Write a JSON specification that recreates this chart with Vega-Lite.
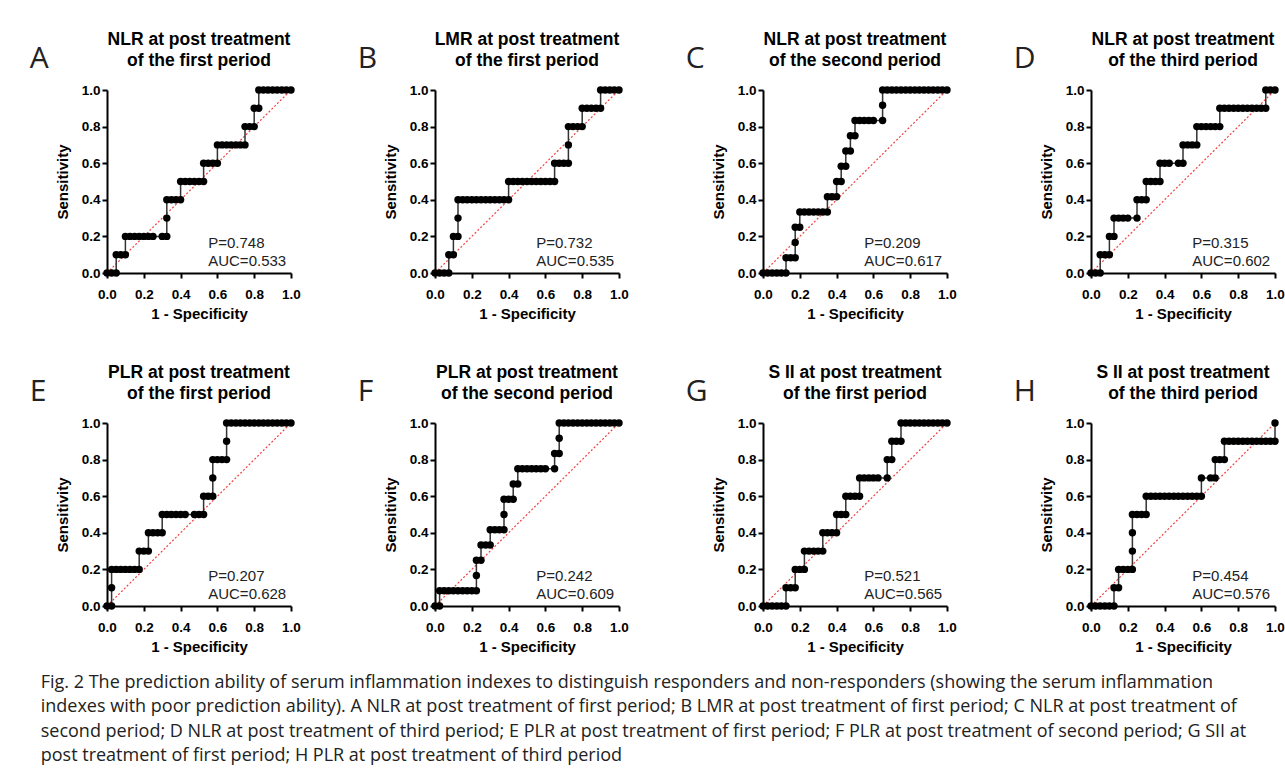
{
"$schema":"https://vega.github.io/schema/vega-lite/v6.json",
"background":"white",
"padding":{"left":29,"top":31,"right":5,"bottom":5},
"datasets":{
"stats":[
{"p":"A","L":"A","P":"P=0.748","AUC":"AUC=0.533"},
{"p":"B","L":"B","P":"P=0.732","AUC":"AUC=0.535"},
{"p":"C","L":"C","P":"P=0.209","AUC":"AUC=0.617"},
{"p":"D","L":"D","P":"P=0.315","AUC":"AUC=0.602"},
{"p":"E","L":"E","P":"P=0.207","AUC":"AUC=0.628"},
{"p":"F","L":"F","P":"P=0.242","AUC":"AUC=0.609"},
{"p":"G","L":"G","P":"P=0.521","AUC":"AUC=0.565"},
{"p":"H","L":"H","P":"P=0.454","AUC":"AUC=0.576"}
],
"curves":[
{"p":"A","x":0,"y":0},{"p":"A","x":0.025,"y":0},{"p":"A","x":0.05,"y":0},
{"p":"A","x":0.05,"y":0.1},{"p":"A","x":0.075,"y":0.1},{"p":"A","x":0.1,"y":0.1},
{"p":"A","x":0.1,"y":0.2},{"p":"A","x":0.125,"y":0.2},{"p":"A","x":0.15,"y":0.2},{"p":"A","x":0.175,"y":0.2},{"p":"A","x":0.2,"y":0.2},{"p":"A","x":0.225,"y":0.2},{"p":"A","x":0.25,"y":0.2},{"p":"A","x":0.3,"y":0.2},{"p":"A","x":0.325,"y":0.2},
{"p":"A","x":0.325,"y":0.3},
{"p":"A","x":0.325,"y":0.4},{"p":"A","x":0.35,"y":0.4},{"p":"A","x":0.375,"y":0.4},{"p":"A","x":0.4,"y":0.4},
{"p":"A","x":0.4,"y":0.5},{"p":"A","x":0.425,"y":0.5},{"p":"A","x":0.45,"y":0.5},{"p":"A","x":0.475,"y":0.5},{"p":"A","x":0.5,"y":0.5},{"p":"A","x":0.525,"y":0.5},
{"p":"A","x":0.525,"y":0.6},{"p":"A","x":0.55,"y":0.6},{"p":"A","x":0.575,"y":0.6},{"p":"A","x":0.6,"y":0.6},
{"p":"A","x":0.6,"y":0.7},{"p":"A","x":0.625,"y":0.7},{"p":"A","x":0.65,"y":0.7},{"p":"A","x":0.675,"y":0.7},{"p":"A","x":0.7,"y":0.7},{"p":"A","x":0.725,"y":0.7},{"p":"A","x":0.75,"y":0.7},
{"p":"A","x":0.75,"y":0.8},{"p":"A","x":0.775,"y":0.8},{"p":"A","x":0.8,"y":0.8},
{"p":"A","x":0.8,"y":0.9},{"p":"A","x":0.825,"y":0.9},
{"p":"A","x":0.825,"y":1},{"p":"A","x":0.85,"y":1},{"p":"A","x":0.875,"y":1},{"p":"A","x":0.9,"y":1},{"p":"A","x":0.925,"y":1},{"p":"A","x":0.95,"y":1},{"p":"A","x":0.975,"y":1},{"p":"A","x":1,"y":1},

{"p":"B","x":0,"y":0},{"p":"B","x":0.025,"y":0},{"p":"B","x":0.05,"y":0},{"p":"B","x":0.075,"y":0},
{"p":"B","x":0.075,"y":0.1},{"p":"B","x":0.1,"y":0.1},
{"p":"B","x":0.1,"y":0.2},{"p":"B","x":0.125,"y":0.2},
{"p":"B","x":0.125,"y":0.3},
{"p":"B","x":0.125,"y":0.4},{"p":"B","x":0.15,"y":0.4},{"p":"B","x":0.175,"y":0.4},{"p":"B","x":0.2,"y":0.4},{"p":"B","x":0.225,"y":0.4},{"p":"B","x":0.25,"y":0.4},{"p":"B","x":0.275,"y":0.4},{"p":"B","x":0.3,"y":0.4},{"p":"B","x":0.325,"y":0.4},{"p":"B","x":0.35,"y":0.4},{"p":"B","x":0.375,"y":0.4},{"p":"B","x":0.4,"y":0.4},
{"p":"B","x":0.4,"y":0.5},{"p":"B","x":0.425,"y":0.5},{"p":"B","x":0.45,"y":0.5},{"p":"B","x":0.475,"y":0.5},{"p":"B","x":0.5,"y":0.5},{"p":"B","x":0.525,"y":0.5},{"p":"B","x":0.55,"y":0.5},{"p":"B","x":0.575,"y":0.5},{"p":"B","x":0.6,"y":0.5},{"p":"B","x":0.625,"y":0.5},{"p":"B","x":0.65,"y":0.5},
{"p":"B","x":0.65,"y":0.6},{"p":"B","x":0.675,"y":0.6},{"p":"B","x":0.7,"y":0.6},{"p":"B","x":0.725,"y":0.6},
{"p":"B","x":0.725,"y":0.7},
{"p":"B","x":0.725,"y":0.8},{"p":"B","x":0.75,"y":0.8},{"p":"B","x":0.775,"y":0.8},{"p":"B","x":0.8,"y":0.8},
{"p":"B","x":0.8,"y":0.9},{"p":"B","x":0.825,"y":0.9},{"p":"B","x":0.85,"y":0.9},{"p":"B","x":0.875,"y":0.9},{"p":"B","x":0.9,"y":0.9},
{"p":"B","x":0.9,"y":1},{"p":"B","x":0.925,"y":1},{"p":"B","x":0.95,"y":1},{"p":"B","x":0.975,"y":1},{"p":"B","x":1,"y":1},

{"p":"C","x":0,"y":0},{"p":"C","x":0.025,"y":0},{"p":"C","x":0.05,"y":0},{"p":"C","x":0.075,"y":0},{"p":"C","x":0.1,"y":0},{"p":"C","x":0.125,"y":0},
{"p":"C","x":0.125,"y":0.0833},{"p":"C","x":0.15,"y":0.0833},{"p":"C","x":0.175,"y":0.0833},
{"p":"C","x":0.175,"y":0.1667},
{"p":"C","x":0.175,"y":0.25},{"p":"C","x":0.2,"y":0.25},
{"p":"C","x":0.2,"y":0.3333},{"p":"C","x":0.225,"y":0.3333},{"p":"C","x":0.25,"y":0.3333},{"p":"C","x":0.275,"y":0.3333},{"p":"C","x":0.3,"y":0.3333},{"p":"C","x":0.325,"y":0.3333},{"p":"C","x":0.35,"y":0.3333},
{"p":"C","x":0.35,"y":0.4167},{"p":"C","x":0.375,"y":0.4167},{"p":"C","x":0.4,"y":0.4167},
{"p":"C","x":0.4,"y":0.5},{"p":"C","x":0.425,"y":0.5},
{"p":"C","x":0.425,"y":0.5833},{"p":"C","x":0.45,"y":0.5833},
{"p":"C","x":0.45,"y":0.6667},{"p":"C","x":0.475,"y":0.6667},
{"p":"C","x":0.475,"y":0.75},{"p":"C","x":0.5,"y":0.75},
{"p":"C","x":0.5,"y":0.8333},{"p":"C","x":0.525,"y":0.8333},{"p":"C","x":0.55,"y":0.8333},{"p":"C","x":0.575,"y":0.8333},{"p":"C","x":0.6,"y":0.8333},{"p":"C","x":0.65,"y":0.8333},
{"p":"C","x":0.65,"y":0.9167},
{"p":"C","x":0.65,"y":1},{"p":"C","x":0.675,"y":1},{"p":"C","x":0.7,"y":1},{"p":"C","x":0.725,"y":1},{"p":"C","x":0.75,"y":1},{"p":"C","x":0.775,"y":1},{"p":"C","x":0.8,"y":1},{"p":"C","x":0.825,"y":1},{"p":"C","x":0.85,"y":1},{"p":"C","x":0.875,"y":1},{"p":"C","x":0.9,"y":1},{"p":"C","x":0.925,"y":1},{"p":"C","x":0.95,"y":1},{"p":"C","x":0.975,"y":1},{"p":"C","x":1,"y":1},

{"p":"D","x":0,"y":0},{"p":"D","x":0.025,"y":0},{"p":"D","x":0.05,"y":0},
{"p":"D","x":0.05,"y":0.1},{"p":"D","x":0.075,"y":0.1},{"p":"D","x":0.1,"y":0.1},
{"p":"D","x":0.1,"y":0.2},{"p":"D","x":0.125,"y":0.2},
{"p":"D","x":0.125,"y":0.3},{"p":"D","x":0.15,"y":0.3},{"p":"D","x":0.175,"y":0.3},{"p":"D","x":0.2,"y":0.3},{"p":"D","x":0.25,"y":0.3},
{"p":"D","x":0.25,"y":0.4},{"p":"D","x":0.275,"y":0.4},{"p":"D","x":0.3,"y":0.4},
{"p":"D","x":0.3,"y":0.5},{"p":"D","x":0.325,"y":0.5},{"p":"D","x":0.35,"y":0.5},{"p":"D","x":0.375,"y":0.5},
{"p":"D","x":0.375,"y":0.6},{"p":"D","x":0.4,"y":0.6},{"p":"D","x":0.425,"y":0.6},{"p":"D","x":0.475,"y":0.6},{"p":"D","x":0.5,"y":0.6},
{"p":"D","x":0.5,"y":0.7},{"p":"D","x":0.525,"y":0.7},{"p":"D","x":0.55,"y":0.7},{"p":"D","x":0.575,"y":0.7},
{"p":"D","x":0.575,"y":0.8},{"p":"D","x":0.6,"y":0.8},{"p":"D","x":0.625,"y":0.8},{"p":"D","x":0.65,"y":0.8},{"p":"D","x":0.675,"y":0.8},{"p":"D","x":0.7,"y":0.8},
{"p":"D","x":0.7,"y":0.9},{"p":"D","x":0.725,"y":0.9},{"p":"D","x":0.75,"y":0.9},{"p":"D","x":0.775,"y":0.9},{"p":"D","x":0.8,"y":0.9},{"p":"D","x":0.825,"y":0.9},{"p":"D","x":0.85,"y":0.9},{"p":"D","x":0.875,"y":0.9},{"p":"D","x":0.9,"y":0.9},{"p":"D","x":0.925,"y":0.9},{"p":"D","x":0.95,"y":0.9},
{"p":"D","x":0.95,"y":1},{"p":"D","x":0.975,"y":1},{"p":"D","x":1,"y":1},

{"p":"E","x":0,"y":0},{"p":"E","x":0.025,"y":0},
{"p":"E","x":0.025,"y":0.1},
{"p":"E","x":0.025,"y":0.2},{"p":"E","x":0.05,"y":0.2},{"p":"E","x":0.075,"y":0.2},{"p":"E","x":0.1,"y":0.2},{"p":"E","x":0.125,"y":0.2},{"p":"E","x":0.15,"y":0.2},{"p":"E","x":0.175,"y":0.2},
{"p":"E","x":0.175,"y":0.3},{"p":"E","x":0.2,"y":0.3},{"p":"E","x":0.225,"y":0.3},
{"p":"E","x":0.225,"y":0.4},{"p":"E","x":0.25,"y":0.4},{"p":"E","x":0.275,"y":0.4},{"p":"E","x":0.3,"y":0.4},
{"p":"E","x":0.3,"y":0.5},{"p":"E","x":0.325,"y":0.5},{"p":"E","x":0.35,"y":0.5},{"p":"E","x":0.375,"y":0.5},{"p":"E","x":0.4,"y":0.5},{"p":"E","x":0.425,"y":0.5},{"p":"E","x":0.475,"y":0.5},{"p":"E","x":0.5,"y":0.5},{"p":"E","x":0.525,"y":0.5},
{"p":"E","x":0.525,"y":0.6},{"p":"E","x":0.55,"y":0.6},{"p":"E","x":0.575,"y":0.6},
{"p":"E","x":0.575,"y":0.7},
{"p":"E","x":0.575,"y":0.8},{"p":"E","x":0.6,"y":0.8},{"p":"E","x":0.625,"y":0.8},{"p":"E","x":0.65,"y":0.8},
{"p":"E","x":0.65,"y":0.9},
{"p":"E","x":0.65,"y":1},{"p":"E","x":0.675,"y":1},{"p":"E","x":0.7,"y":1},{"p":"E","x":0.725,"y":1},{"p":"E","x":0.75,"y":1},{"p":"E","x":0.775,"y":1},{"p":"E","x":0.8,"y":1},{"p":"E","x":0.825,"y":1},{"p":"E","x":0.85,"y":1},{"p":"E","x":0.875,"y":1},{"p":"E","x":0.9,"y":1},{"p":"E","x":0.925,"y":1},{"p":"E","x":0.95,"y":1},{"p":"E","x":0.975,"y":1},{"p":"E","x":1,"y":1},

{"p":"F","x":0,"y":0},{"p":"F","x":0.025,"y":0},
{"p":"F","x":0.025,"y":0.0833},{"p":"F","x":0.05,"y":0.0833},{"p":"F","x":0.075,"y":0.0833},{"p":"F","x":0.1,"y":0.0833},{"p":"F","x":0.125,"y":0.0833},{"p":"F","x":0.15,"y":0.0833},{"p":"F","x":0.175,"y":0.0833},{"p":"F","x":0.2,"y":0.0833},{"p":"F","x":0.225,"y":0.0833},
{"p":"F","x":0.225,"y":0.1667},
{"p":"F","x":0.225,"y":0.25},{"p":"F","x":0.25,"y":0.25},
{"p":"F","x":0.25,"y":0.3333},{"p":"F","x":0.275,"y":0.3333},{"p":"F","x":0.3,"y":0.3333},
{"p":"F","x":0.3,"y":0.4167},{"p":"F","x":0.325,"y":0.4167},{"p":"F","x":0.35,"y":0.4167},{"p":"F","x":0.375,"y":0.4167},
{"p":"F","x":0.375,"y":0.5},
{"p":"F","x":0.375,"y":0.5833},{"p":"F","x":0.4,"y":0.5833},{"p":"F","x":0.425,"y":0.5833},
{"p":"F","x":0.425,"y":0.6667},{"p":"F","x":0.45,"y":0.6667},
{"p":"F","x":0.45,"y":0.75},{"p":"F","x":0.475,"y":0.75},{"p":"F","x":0.5,"y":0.75},{"p":"F","x":0.525,"y":0.75},{"p":"F","x":0.55,"y":0.75},{"p":"F","x":0.575,"y":0.75},{"p":"F","x":0.6,"y":0.75},{"p":"F","x":0.65,"y":0.75},
{"p":"F","x":0.65,"y":0.8333},{"p":"F","x":0.675,"y":0.8333},
{"p":"F","x":0.675,"y":0.9167},
{"p":"F","x":0.675,"y":1},{"p":"F","x":0.7,"y":1},{"p":"F","x":0.725,"y":1},{"p":"F","x":0.75,"y":1},{"p":"F","x":0.775,"y":1},{"p":"F","x":0.8,"y":1},{"p":"F","x":0.825,"y":1},{"p":"F","x":0.85,"y":1},{"p":"F","x":0.875,"y":1},{"p":"F","x":0.9,"y":1},{"p":"F","x":0.925,"y":1},{"p":"F","x":0.95,"y":1},{"p":"F","x":0.975,"y":1},{"p":"F","x":1,"y":1},

{"p":"G","x":0,"y":0},{"p":"G","x":0.025,"y":0},{"p":"G","x":0.05,"y":0},{"p":"G","x":0.075,"y":0},{"p":"G","x":0.1,"y":0},{"p":"G","x":0.125,"y":0},
{"p":"G","x":0.125,"y":0.1},{"p":"G","x":0.15,"y":0.1},{"p":"G","x":0.175,"y":0.1},
{"p":"G","x":0.175,"y":0.2},{"p":"G","x":0.2,"y":0.2},{"p":"G","x":0.225,"y":0.2},
{"p":"G","x":0.225,"y":0.3},{"p":"G","x":0.25,"y":0.3},{"p":"G","x":0.275,"y":0.3},{"p":"G","x":0.3,"y":0.3},{"p":"G","x":0.325,"y":0.3},
{"p":"G","x":0.325,"y":0.4},{"p":"G","x":0.35,"y":0.4},{"p":"G","x":0.375,"y":0.4},{"p":"G","x":0.4,"y":0.4},
{"p":"G","x":0.4,"y":0.5},{"p":"G","x":0.425,"y":0.5},{"p":"G","x":0.45,"y":0.5},
{"p":"G","x":0.45,"y":0.6},{"p":"G","x":0.475,"y":0.6},{"p":"G","x":0.5,"y":0.6},{"p":"G","x":0.525,"y":0.6},
{"p":"G","x":0.525,"y":0.7},{"p":"G","x":0.55,"y":0.7},{"p":"G","x":0.575,"y":0.7},{"p":"G","x":0.6,"y":0.7},{"p":"G","x":0.625,"y":0.7},{"p":"G","x":0.675,"y":0.7},
{"p":"G","x":0.675,"y":0.8},{"p":"G","x":0.7,"y":0.8},
{"p":"G","x":0.7,"y":0.9},{"p":"G","x":0.725,"y":0.9},{"p":"G","x":0.75,"y":0.9},
{"p":"G","x":0.75,"y":1},{"p":"G","x":0.775,"y":1},{"p":"G","x":0.8,"y":1},{"p":"G","x":0.825,"y":1},{"p":"G","x":0.85,"y":1},{"p":"G","x":0.875,"y":1},{"p":"G","x":0.9,"y":1},{"p":"G","x":0.925,"y":1},{"p":"G","x":0.95,"y":1},{"p":"G","x":0.975,"y":1},{"p":"G","x":1,"y":1},

{"p":"H","x":0,"y":0},{"p":"H","x":0.025,"y":0},{"p":"H","x":0.05,"y":0},{"p":"H","x":0.075,"y":0},{"p":"H","x":0.1,"y":0},{"p":"H","x":0.125,"y":0},
{"p":"H","x":0.125,"y":0.1},{"p":"H","x":0.15,"y":0.1},
{"p":"H","x":0.15,"y":0.2},{"p":"H","x":0.175,"y":0.2},{"p":"H","x":0.2,"y":0.2},{"p":"H","x":0.225,"y":0.2},
{"p":"H","x":0.225,"y":0.3},{"p":"H","x":0.225,"y":0.4},
{"p":"H","x":0.225,"y":0.5},{"p":"H","x":0.25,"y":0.5},{"p":"H","x":0.275,"y":0.5},{"p":"H","x":0.3,"y":0.5},
{"p":"H","x":0.3,"y":0.6},{"p":"H","x":0.325,"y":0.6},{"p":"H","x":0.35,"y":0.6},{"p":"H","x":0.375,"y":0.6},{"p":"H","x":0.4,"y":0.6},{"p":"H","x":0.425,"y":0.6},{"p":"H","x":0.45,"y":0.6},{"p":"H","x":0.475,"y":0.6},{"p":"H","x":0.5,"y":0.6},{"p":"H","x":0.525,"y":0.6},{"p":"H","x":0.55,"y":0.6},{"p":"H","x":0.575,"y":0.6},{"p":"H","x":0.6,"y":0.6},
{"p":"H","x":0.6,"y":0.7},{"p":"H","x":0.65,"y":0.7},{"p":"H","x":0.675,"y":0.7},
{"p":"H","x":0.675,"y":0.8},{"p":"H","x":0.7,"y":0.8},{"p":"H","x":0.725,"y":0.8},
{"p":"H","x":0.725,"y":0.9},{"p":"H","x":0.75,"y":0.9},{"p":"H","x":0.775,"y":0.9},{"p":"H","x":0.8,"y":0.9},{"p":"H","x":0.825,"y":0.9},{"p":"H","x":0.85,"y":0.9},{"p":"H","x":0.875,"y":0.9},{"p":"H","x":0.9,"y":0.9},{"p":"H","x":0.925,"y":0.9},{"p":"H","x":0.95,"y":0.9},{"p":"H","x":0.975,"y":0.9},{"p":"H","x":1,"y":0.9},
{"p":"H","x":1,"y":1}
]
},
"title":{"text":["Fig. 2  The prediction ability of serum inflammation indexes to distinguish responders and non-responders (showing the serum inflammation","indexes with poor prediction ability). A NLR at post treatment of first period; B LMR at post treatment of first period; C NLR at post treatment of","second period; D NLR at post treatment of third period; E PLR at post treatment of first period; F PLR at post treatment of second period; G SII at","post treatment of first period; H PLR at post treatment of third period"],"orient":"bottom","anchor":"start","font":"Open Sans","fontSize":18,"fontWeight":"normal","color":"#222222","lineHeight":24.5,"offset":19,"dx":11,"dy":0},
"concat":[
{"width":184,"height":183,"title":{"text":["NLR at post treatment","of the first period"]},"layer":[
{"data":{"name":"stats"},"transform":[{"filter":"datum.p=='A'"}],"mark":{"type":"rule","color":"#f2413d","strokeDash":[2,2],"strokeWidth":1.2},"encoding":{"x":{"datum":0,"type":"quantitative","scale":{"domain":[0,1]},"title":"1 - Specificity"},"y":{"datum":0,"type":"quantitative","scale":{"domain":[0,1]},"title":"Sensitivity"},"x2":{"datum":1},"y2":{"datum":1}}},
{"data":{"name":"curves"},"transform":[{"filter":"datum.p=='A'"}],"mark":{"type":"line","color":"#333333","strokeWidth":1.5},"encoding":{"x":{"field":"x","type":"quantitative","scale":{"domain":[0,1]},"title":"1 - Specificity"},"y":{"field":"y","type":"quantitative","scale":{"domain":[0,1]},"title":"Sensitivity"},"order":[{"field":"x","type":"quantitative"},{"field":"y","type":"quantitative"}]}},
{"data":{"name":"curves"},"transform":[{"filter":"datum.p=='A'"}],"mark":{"type":"circle","size":55,"color":"black","opacity":1},"encoding":{"x":{"field":"x","type":"quantitative","scale":{"domain":[0,1]},"title":"1 - Specificity"},"y":{"field":"y","type":"quantitative","scale":{"domain":[0,1]},"title":"Sensitivity"}}},
{"data":{"name":"stats"},"transform":[{"filter":"datum.p=='A'"}],"mark":{"type":"text","align":"left","baseline":"alphabetic","fontSize":15,"color":"#222222"},"encoding":{"x":{"datum":0.55,"type":"quantitative","scale":{"domain":[0,1]},"title":"1 - Specificity"},"y":{"datum":0.135,"type":"quantitative","scale":{"domain":[0,1]},"title":"Sensitivity"},"text":{"field":"P"}}},
{"data":{"name":"stats"},"transform":[{"filter":"datum.p=='A'"}],"mark":{"type":"text","align":"left","baseline":"alphabetic","fontSize":15,"color":"#222222"},"encoding":{"x":{"datum":0.55,"type":"quantitative","scale":{"domain":[0,1]},"title":"1 - Specificity"},"y":{"datum":0.04,"type":"quantitative","scale":{"domain":[0,1]},"title":"Sensitivity"},"text":{"field":"AUC"}}},
{"data":{"name":"stats"},"transform":[{"filter":"datum.p=='A'"}],"mark":{"type":"text","align":"left","baseline":"middle","font":"Open Sans","fontSize":30,"color":"#222222"},"encoding":{"x":{"datum":-0.42,"type":"quantitative","scale":{"domain":[0,1]},"title":"1 - Specificity"},"y":{"datum":1.17,"type":"quantitative","scale":{"domain":[0,1]},"title":"Sensitivity"},"text":{"field":"L"}}}
]},
{"width":184,"height":183,"title":{"text":["LMR at post treatment","of the first period"]},"layer":[
{"data":{"name":"stats"},"transform":[{"filter":"datum.p=='B'"}],"mark":{"type":"rule","color":"#f2413d","strokeDash":[2,2],"strokeWidth":1.2},"encoding":{"x":{"datum":0,"type":"quantitative","scale":{"domain":[0,1]},"title":"1 - Specificity"},"y":{"datum":0,"type":"quantitative","scale":{"domain":[0,1]},"title":"Sensitivity"},"x2":{"datum":1},"y2":{"datum":1}}},
{"data":{"name":"curves"},"transform":[{"filter":"datum.p=='B'"}],"mark":{"type":"line","color":"#333333","strokeWidth":1.5},"encoding":{"x":{"field":"x","type":"quantitative","scale":{"domain":[0,1]},"title":"1 - Specificity"},"y":{"field":"y","type":"quantitative","scale":{"domain":[0,1]},"title":"Sensitivity"},"order":[{"field":"x","type":"quantitative"},{"field":"y","type":"quantitative"}]}},
{"data":{"name":"curves"},"transform":[{"filter":"datum.p=='B'"}],"mark":{"type":"circle","size":55,"color":"black","opacity":1},"encoding":{"x":{"field":"x","type":"quantitative","scale":{"domain":[0,1]},"title":"1 - Specificity"},"y":{"field":"y","type":"quantitative","scale":{"domain":[0,1]},"title":"Sensitivity"}}},
{"data":{"name":"stats"},"transform":[{"filter":"datum.p=='B'"}],"mark":{"type":"text","align":"left","baseline":"alphabetic","fontSize":15,"color":"#222222"},"encoding":{"x":{"datum":0.55,"type":"quantitative","scale":{"domain":[0,1]},"title":"1 - Specificity"},"y":{"datum":0.135,"type":"quantitative","scale":{"domain":[0,1]},"title":"Sensitivity"},"text":{"field":"P"}}},
{"data":{"name":"stats"},"transform":[{"filter":"datum.p=='B'"}],"mark":{"type":"text","align":"left","baseline":"alphabetic","fontSize":15,"color":"#222222"},"encoding":{"x":{"datum":0.55,"type":"quantitative","scale":{"domain":[0,1]},"title":"1 - Specificity"},"y":{"datum":0.04,"type":"quantitative","scale":{"domain":[0,1]},"title":"Sensitivity"},"text":{"field":"AUC"}}},
{"data":{"name":"stats"},"transform":[{"filter":"datum.p=='B'"}],"mark":{"type":"text","align":"left","baseline":"middle","font":"Open Sans","fontSize":30,"color":"#222222"},"encoding":{"x":{"datum":-0.42,"type":"quantitative","scale":{"domain":[0,1]},"title":"1 - Specificity"},"y":{"datum":1.17,"type":"quantitative","scale":{"domain":[0,1]},"title":"Sensitivity"},"text":{"field":"L"}}}
]},
{"width":184,"height":183,"title":{"text":["NLR at post treatment","of the second period"]},"layer":[
{"data":{"name":"stats"},"transform":[{"filter":"datum.p=='C'"}],"mark":{"type":"rule","color":"#f2413d","strokeDash":[2,2],"strokeWidth":1.2},"encoding":{"x":{"datum":0,"type":"quantitative","scale":{"domain":[0,1]},"title":"1 - Specificity"},"y":{"datum":0,"type":"quantitative","scale":{"domain":[0,1]},"title":"Sensitivity"},"x2":{"datum":1},"y2":{"datum":1}}},
{"data":{"name":"curves"},"transform":[{"filter":"datum.p=='C'"}],"mark":{"type":"line","color":"#333333","strokeWidth":1.5},"encoding":{"x":{"field":"x","type":"quantitative","scale":{"domain":[0,1]},"title":"1 - Specificity"},"y":{"field":"y","type":"quantitative","scale":{"domain":[0,1]},"title":"Sensitivity"},"order":[{"field":"x","type":"quantitative"},{"field":"y","type":"quantitative"}]}},
{"data":{"name":"curves"},"transform":[{"filter":"datum.p=='C'"}],"mark":{"type":"circle","size":55,"color":"black","opacity":1},"encoding":{"x":{"field":"x","type":"quantitative","scale":{"domain":[0,1]},"title":"1 - Specificity"},"y":{"field":"y","type":"quantitative","scale":{"domain":[0,1]},"title":"Sensitivity"}}},
{"data":{"name":"stats"},"transform":[{"filter":"datum.p=='C'"}],"mark":{"type":"text","align":"left","baseline":"alphabetic","fontSize":15,"color":"#222222"},"encoding":{"x":{"datum":0.55,"type":"quantitative","scale":{"domain":[0,1]},"title":"1 - Specificity"},"y":{"datum":0.135,"type":"quantitative","scale":{"domain":[0,1]},"title":"Sensitivity"},"text":{"field":"P"}}},
{"data":{"name":"stats"},"transform":[{"filter":"datum.p=='C'"}],"mark":{"type":"text","align":"left","baseline":"alphabetic","fontSize":15,"color":"#222222"},"encoding":{"x":{"datum":0.55,"type":"quantitative","scale":{"domain":[0,1]},"title":"1 - Specificity"},"y":{"datum":0.04,"type":"quantitative","scale":{"domain":[0,1]},"title":"Sensitivity"},"text":{"field":"AUC"}}},
{"data":{"name":"stats"},"transform":[{"filter":"datum.p=='C'"}],"mark":{"type":"text","align":"left","baseline":"middle","font":"Open Sans","fontSize":30,"color":"#222222"},"encoding":{"x":{"datum":-0.42,"type":"quantitative","scale":{"domain":[0,1]},"title":"1 - Specificity"},"y":{"datum":1.17,"type":"quantitative","scale":{"domain":[0,1]},"title":"Sensitivity"},"text":{"field":"L"}}}
]},
{"width":184,"height":183,"title":{"text":["NLR at post treatment","of the third period"]},"layer":[
{"data":{"name":"stats"},"transform":[{"filter":"datum.p=='D'"}],"mark":{"type":"rule","color":"#f2413d","strokeDash":[2,2],"strokeWidth":1.2},"encoding":{"x":{"datum":0,"type":"quantitative","scale":{"domain":[0,1]},"title":"1 - Specificity"},"y":{"datum":0,"type":"quantitative","scale":{"domain":[0,1]},"title":"Sensitivity"},"x2":{"datum":1},"y2":{"datum":1}}},
{"data":{"name":"curves"},"transform":[{"filter":"datum.p=='D'"}],"mark":{"type":"line","color":"#333333","strokeWidth":1.5},"encoding":{"x":{"field":"x","type":"quantitative","scale":{"domain":[0,1]},"title":"1 - Specificity"},"y":{"field":"y","type":"quantitative","scale":{"domain":[0,1]},"title":"Sensitivity"},"order":[{"field":"x","type":"quantitative"},{"field":"y","type":"quantitative"}]}},
{"data":{"name":"curves"},"transform":[{"filter":"datum.p=='D'"}],"mark":{"type":"circle","size":55,"color":"black","opacity":1},"encoding":{"x":{"field":"x","type":"quantitative","scale":{"domain":[0,1]},"title":"1 - Specificity"},"y":{"field":"y","type":"quantitative","scale":{"domain":[0,1]},"title":"Sensitivity"}}},
{"data":{"name":"stats"},"transform":[{"filter":"datum.p=='D'"}],"mark":{"type":"text","align":"left","baseline":"alphabetic","fontSize":15,"color":"#222222"},"encoding":{"x":{"datum":0.55,"type":"quantitative","scale":{"domain":[0,1]},"title":"1 - Specificity"},"y":{"datum":0.135,"type":"quantitative","scale":{"domain":[0,1]},"title":"Sensitivity"},"text":{"field":"P"}}},
{"data":{"name":"stats"},"transform":[{"filter":"datum.p=='D'"}],"mark":{"type":"text","align":"left","baseline":"alphabetic","fontSize":15,"color":"#222222"},"encoding":{"x":{"datum":0.55,"type":"quantitative","scale":{"domain":[0,1]},"title":"1 - Specificity"},"y":{"datum":0.04,"type":"quantitative","scale":{"domain":[0,1]},"title":"Sensitivity"},"text":{"field":"AUC"}}},
{"data":{"name":"stats"},"transform":[{"filter":"datum.p=='D'"}],"mark":{"type":"text","align":"left","baseline":"middle","font":"Open Sans","fontSize":30,"color":"#222222"},"encoding":{"x":{"datum":-0.42,"type":"quantitative","scale":{"domain":[0,1]},"title":"1 - Specificity"},"y":{"datum":1.17,"type":"quantitative","scale":{"domain":[0,1]},"title":"Sensitivity"},"text":{"field":"L"}}}
]},
{"width":184,"height":183,"title":{"text":["PLR at post treatment","of the first period"]},"layer":[
{"data":{"name":"stats"},"transform":[{"filter":"datum.p=='E'"}],"mark":{"type":"rule","color":"#f2413d","strokeDash":[2,2],"strokeWidth":1.2},"encoding":{"x":{"datum":0,"type":"quantitative","scale":{"domain":[0,1]},"title":"1 - Specificity"},"y":{"datum":0,"type":"quantitative","scale":{"domain":[0,1]},"title":"Sensitivity"},"x2":{"datum":1},"y2":{"datum":1}}},
{"data":{"name":"curves"},"transform":[{"filter":"datum.p=='E'"}],"mark":{"type":"line","color":"#333333","strokeWidth":1.5},"encoding":{"x":{"field":"x","type":"quantitative","scale":{"domain":[0,1]},"title":"1 - Specificity"},"y":{"field":"y","type":"quantitative","scale":{"domain":[0,1]},"title":"Sensitivity"},"order":[{"field":"x","type":"quantitative"},{"field":"y","type":"quantitative"}]}},
{"data":{"name":"curves"},"transform":[{"filter":"datum.p=='E'"}],"mark":{"type":"circle","size":55,"color":"black","opacity":1},"encoding":{"x":{"field":"x","type":"quantitative","scale":{"domain":[0,1]},"title":"1 - Specificity"},"y":{"field":"y","type":"quantitative","scale":{"domain":[0,1]},"title":"Sensitivity"}}},
{"data":{"name":"stats"},"transform":[{"filter":"datum.p=='E'"}],"mark":{"type":"text","align":"left","baseline":"alphabetic","fontSize":15,"color":"#222222"},"encoding":{"x":{"datum":0.55,"type":"quantitative","scale":{"domain":[0,1]},"title":"1 - Specificity"},"y":{"datum":0.135,"type":"quantitative","scale":{"domain":[0,1]},"title":"Sensitivity"},"text":{"field":"P"}}},
{"data":{"name":"stats"},"transform":[{"filter":"datum.p=='E'"}],"mark":{"type":"text","align":"left","baseline":"alphabetic","fontSize":15,"color":"#222222"},"encoding":{"x":{"datum":0.55,"type":"quantitative","scale":{"domain":[0,1]},"title":"1 - Specificity"},"y":{"datum":0.04,"type":"quantitative","scale":{"domain":[0,1]},"title":"Sensitivity"},"text":{"field":"AUC"}}},
{"data":{"name":"stats"},"transform":[{"filter":"datum.p=='E'"}],"mark":{"type":"text","align":"left","baseline":"middle","font":"Open Sans","fontSize":30,"color":"#222222"},"encoding":{"x":{"datum":-0.42,"type":"quantitative","scale":{"domain":[0,1]},"title":"1 - Specificity"},"y":{"datum":1.17,"type":"quantitative","scale":{"domain":[0,1]},"title":"Sensitivity"},"text":{"field":"L"}}}
]},
{"width":184,"height":183,"title":{"text":["PLR at post treatment","of the second period"]},"layer":[
{"data":{"name":"stats"},"transform":[{"filter":"datum.p=='F'"}],"mark":{"type":"rule","color":"#f2413d","strokeDash":[2,2],"strokeWidth":1.2},"encoding":{"x":{"datum":0,"type":"quantitative","scale":{"domain":[0,1]},"title":"1 - Specificity"},"y":{"datum":0,"type":"quantitative","scale":{"domain":[0,1]},"title":"Sensitivity"},"x2":{"datum":1},"y2":{"datum":1}}},
{"data":{"name":"curves"},"transform":[{"filter":"datum.p=='F'"}],"mark":{"type":"line","color":"#333333","strokeWidth":1.5},"encoding":{"x":{"field":"x","type":"quantitative","scale":{"domain":[0,1]},"title":"1 - Specificity"},"y":{"field":"y","type":"quantitative","scale":{"domain":[0,1]},"title":"Sensitivity"},"order":[{"field":"x","type":"quantitative"},{"field":"y","type":"quantitative"}]}},
{"data":{"name":"curves"},"transform":[{"filter":"datum.p=='F'"}],"mark":{"type":"circle","size":55,"color":"black","opacity":1},"encoding":{"x":{"field":"x","type":"quantitative","scale":{"domain":[0,1]},"title":"1 - Specificity"},"y":{"field":"y","type":"quantitative","scale":{"domain":[0,1]},"title":"Sensitivity"}}},
{"data":{"name":"stats"},"transform":[{"filter":"datum.p=='F'"}],"mark":{"type":"text","align":"left","baseline":"alphabetic","fontSize":15,"color":"#222222"},"encoding":{"x":{"datum":0.55,"type":"quantitative","scale":{"domain":[0,1]},"title":"1 - Specificity"},"y":{"datum":0.135,"type":"quantitative","scale":{"domain":[0,1]},"title":"Sensitivity"},"text":{"field":"P"}}},
{"data":{"name":"stats"},"transform":[{"filter":"datum.p=='F'"}],"mark":{"type":"text","align":"left","baseline":"alphabetic","fontSize":15,"color":"#222222"},"encoding":{"x":{"datum":0.55,"type":"quantitative","scale":{"domain":[0,1]},"title":"1 - Specificity"},"y":{"datum":0.04,"type":"quantitative","scale":{"domain":[0,1]},"title":"Sensitivity"},"text":{"field":"AUC"}}},
{"data":{"name":"stats"},"transform":[{"filter":"datum.p=='F'"}],"mark":{"type":"text","align":"left","baseline":"middle","font":"Open Sans","fontSize":30,"color":"#222222"},"encoding":{"x":{"datum":-0.42,"type":"quantitative","scale":{"domain":[0,1]},"title":"1 - Specificity"},"y":{"datum":1.17,"type":"quantitative","scale":{"domain":[0,1]},"title":"Sensitivity"},"text":{"field":"L"}}}
]},
{"width":184,"height":183,"title":{"text":["S II at post treatment","of the first period"]},"layer":[
{"data":{"name":"stats"},"transform":[{"filter":"datum.p=='G'"}],"mark":{"type":"rule","color":"#f2413d","strokeDash":[2,2],"strokeWidth":1.2},"encoding":{"x":{"datum":0,"type":"quantitative","scale":{"domain":[0,1]},"title":"1 - Specificity"},"y":{"datum":0,"type":"quantitative","scale":{"domain":[0,1]},"title":"Sensitivity"},"x2":{"datum":1},"y2":{"datum":1}}},
{"data":{"name":"curves"},"transform":[{"filter":"datum.p=='G'"}],"mark":{"type":"line","color":"#333333","strokeWidth":1.5},"encoding":{"x":{"field":"x","type":"quantitative","scale":{"domain":[0,1]},"title":"1 - Specificity"},"y":{"field":"y","type":"quantitative","scale":{"domain":[0,1]},"title":"Sensitivity"},"order":[{"field":"x","type":"quantitative"},{"field":"y","type":"quantitative"}]}},
{"data":{"name":"curves"},"transform":[{"filter":"datum.p=='G'"}],"mark":{"type":"circle","size":55,"color":"black","opacity":1},"encoding":{"x":{"field":"x","type":"quantitative","scale":{"domain":[0,1]},"title":"1 - Specificity"},"y":{"field":"y","type":"quantitative","scale":{"domain":[0,1]},"title":"Sensitivity"}}},
{"data":{"name":"stats"},"transform":[{"filter":"datum.p=='G'"}],"mark":{"type":"text","align":"left","baseline":"alphabetic","fontSize":15,"color":"#222222"},"encoding":{"x":{"datum":0.55,"type":"quantitative","scale":{"domain":[0,1]},"title":"1 - Specificity"},"y":{"datum":0.135,"type":"quantitative","scale":{"domain":[0,1]},"title":"Sensitivity"},"text":{"field":"P"}}},
{"data":{"name":"stats"},"transform":[{"filter":"datum.p=='G'"}],"mark":{"type":"text","align":"left","baseline":"alphabetic","fontSize":15,"color":"#222222"},"encoding":{"x":{"datum":0.55,"type":"quantitative","scale":{"domain":[0,1]},"title":"1 - Specificity"},"y":{"datum":0.04,"type":"quantitative","scale":{"domain":[0,1]},"title":"Sensitivity"},"text":{"field":"AUC"}}},
{"data":{"name":"stats"},"transform":[{"filter":"datum.p=='G'"}],"mark":{"type":"text","align":"left","baseline":"middle","font":"Open Sans","fontSize":30,"color":"#222222"},"encoding":{"x":{"datum":-0.42,"type":"quantitative","scale":{"domain":[0,1]},"title":"1 - Specificity"},"y":{"datum":1.17,"type":"quantitative","scale":{"domain":[0,1]},"title":"Sensitivity"},"text":{"field":"L"}}}
]},
{"width":184,"height":183,"title":{"text":["S II at post treatment","of the third period"]},"layer":[
{"data":{"name":"stats"},"transform":[{"filter":"datum.p=='H'"}],"mark":{"type":"rule","color":"#f2413d","strokeDash":[2,2],"strokeWidth":1.2},"encoding":{"x":{"datum":0,"type":"quantitative","scale":{"domain":[0,1]},"title":"1 - Specificity"},"y":{"datum":0,"type":"quantitative","scale":{"domain":[0,1]},"title":"Sensitivity"},"x2":{"datum":1},"y2":{"datum":1}}},
{"data":{"name":"curves"},"transform":[{"filter":"datum.p=='H'"}],"mark":{"type":"line","color":"#333333","strokeWidth":1.5},"encoding":{"x":{"field":"x","type":"quantitative","scale":{"domain":[0,1]},"title":"1 - Specificity"},"y":{"field":"y","type":"quantitative","scale":{"domain":[0,1]},"title":"Sensitivity"},"order":[{"field":"x","type":"quantitative"},{"field":"y","type":"quantitative"}]}},
{"data":{"name":"curves"},"transform":[{"filter":"datum.p=='H'"}],"mark":{"type":"circle","size":55,"color":"black","opacity":1},"encoding":{"x":{"field":"x","type":"quantitative","scale":{"domain":[0,1]},"title":"1 - Specificity"},"y":{"field":"y","type":"quantitative","scale":{"domain":[0,1]},"title":"Sensitivity"}}},
{"data":{"name":"stats"},"transform":[{"filter":"datum.p=='H'"}],"mark":{"type":"text","align":"left","baseline":"alphabetic","fontSize":15,"color":"#222222"},"encoding":{"x":{"datum":0.55,"type":"quantitative","scale":{"domain":[0,1]},"title":"1 - Specificity"},"y":{"datum":0.135,"type":"quantitative","scale":{"domain":[0,1]},"title":"Sensitivity"},"text":{"field":"P"}}},
{"data":{"name":"stats"},"transform":[{"filter":"datum.p=='H'"}],"mark":{"type":"text","align":"left","baseline":"alphabetic","fontSize":15,"color":"#222222"},"encoding":{"x":{"datum":0.55,"type":"quantitative","scale":{"domain":[0,1]},"title":"1 - Specificity"},"y":{"datum":0.04,"type":"quantitative","scale":{"domain":[0,1]},"title":"Sensitivity"},"text":{"field":"AUC"}}},
{"data":{"name":"stats"},"transform":[{"filter":"datum.p=='H'"}],"mark":{"type":"text","align":"left","baseline":"middle","font":"Open Sans","fontSize":30,"color":"#222222"},"encoding":{"x":{"datum":-0.42,"type":"quantitative","scale":{"domain":[0,1]},"title":"1 - Specificity"},"y":{"datum":1.17,"type":"quantitative","scale":{"domain":[0,1]},"title":"Sensitivity"},"text":{"field":"L"}}}
]}
],
"columns":4,
"spacing":{"row":150,"column":144},
"bounds":"flush",
"config":{
"view":{"stroke":null},
"font":"Liberation Sans",
"numberFormat":".1f",
"text":{"font":"Liberation Sans"},
"title":{"font":"Liberation Sans","fontSize":17.5,"fontWeight":"bold","color":"black","anchor":"middle","offset":18,"dy":44,"lineHeight":21},
"axis":{"grid":false,"domainColor":"black","domainWidth":2,"tickColor":"black","tickWidth":2,"tickSize":5,"tickCount":5,"labelFont":"Liberation Sans","labelFontSize":13.5,"labelFontWeight":"bold","labelColor":"black","labelFlush":false,"labelOverlap":false,"titleFont":"Liberation Sans","titleFontSize":15,"titleFontWeight":"bold","titleColor":"black"},
"axisX":{"labelPadding":9,"titlePadding":6},
"axisY":{"labelPadding":2,"titlePadding":11}
}
}
